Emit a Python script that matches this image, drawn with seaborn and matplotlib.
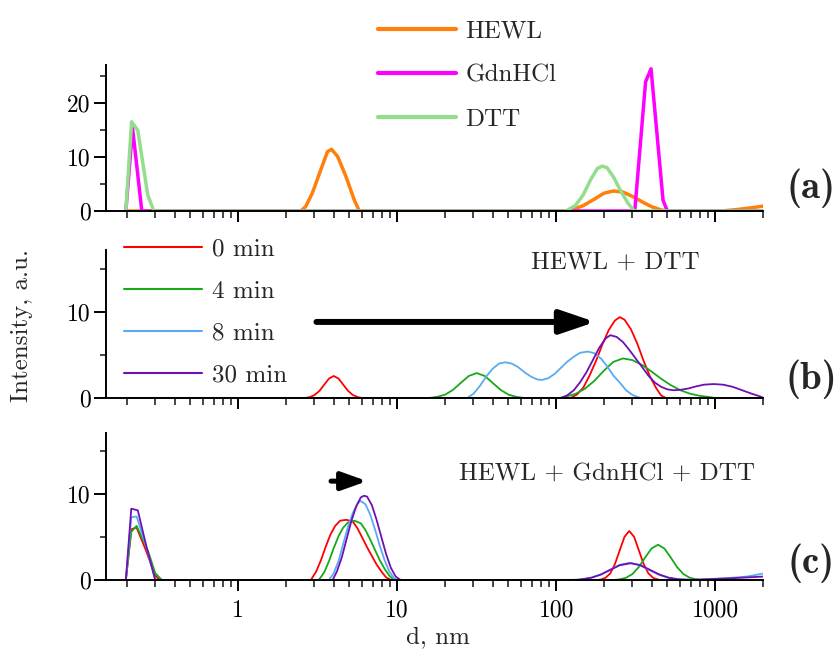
import numpy as np
import pandas as pd
import matplotlib
matplotlib.use("Agg")
import matplotlib.pyplot as plt
import seaborn as sns
from matplotlib.lines import Line2D
from matplotlib.ticker import FixedLocator, NullFormatter, LogLocator, FixedFormatter

# ---------------- data ----------------
# Panel (a): pure components
hewl_d = [0.196, 2.47, 2.65, 2.92, 3.30, 3.64, 3.86, 4.21, 4.75, 5.37, 5.77,
          120, 148, 174, 200, 229, 263, 302, 347, 398, 457, 501, 1100, 1400, 1700, 2000]
hewl_i = [0, 0, 0.8, 3.3, 7.6, 11.0, 11.4, 10.1, 6.4, 2.0, 0,
          0, 1.0, 2.2, 3.3, 3.7, 3.5, 2.7, 1.7, 0.8, 0.2, 0, 0, 0.3, 0.6, 0.9]
gdn_d = [0.196, 0.216, 0.247, 312, 365, 395, 470, 500, 2000]
gdn_i = [0, 15.3, 0, 0, 23.9, 26.3, 2.0, 0, 0]
dtt_d = [0.196, 0.213, 0.233, 0.269, 0.294, 115, 132, 148, 166, 182, 195, 209, 229, 257, 282, 309, 2000]
dtt_i = [0, 16.5, 14.9, 3.0, 0, 0, 1.0, 3.0, 6.0, 7.9, 8.3, 8.0, 6.3, 3.5, 1.5, 0, 0]

# Panel (b): HEWL + DTT
b0_d = [0.196, 2.63, 2.82, 3.02, 3.24, 3.47, 3.72, 3.98, 4.27, 4.57, 4.90, 5.25, 5.62, 6.03,
        123, 135, 148, 162, 178, 195, 214, 234, 251, 269, 295, 324, 355, 389, 427, 457, 490, 2000]
b0_i = [0, 0, 0.11, 0.35, 0.83, 1.55, 2.26, 2.56, 2.26, 1.55, 0.83, 0.35, 0.11, 0,
        0, 0.4, 1.2, 2.6, 4.3, 6.2, 7.9, 9.0, 9.4, 9.1, 8.0, 6.3, 4.3, 2.5, 1.1, 0.3, 0, 0]
b4_d = [0.196, 15.8, 17.8, 20.0, 22.4, 25.1, 28.2, 31.6, 35.5, 39.8, 44.7, 50.1, 56.2, 63.1,
        105, 115, 132, 151, 174, 200, 229, 263, 302, 347, 398, 457, 525, 603, 692, 794, 912, 1000, 2000]
b4_i = [0, 0, 0.13, 0.39, 0.94, 1.76, 2.56, 2.9, 2.56, 1.76, 0.94, 0.39, 0.13, 0,
        0, 0.17, 0.47, 1.06, 2.0, 3.2, 4.2, 4.6, 4.4, 3.84, 3.07, 2.24, 1.5, 0.91, 0.51, 0.26, 0.12, 0, 0]
b8_d = [0.196, 27.5, 30.2, 33.1, 36.3, 39.8, 43.7, 47.9, 52.5, 57.5, 63.1, 69.2, 75.9, 81.3, 89.1,
        97.7, 107, 117, 129, 141, 158, 174, 191, 209, 229, 251, 275, 302, 339, 2000]
b8_i = [0, 0, 0.5, 1.4, 2.5, 3.4, 4.0, 4.15, 4.0, 3.6, 3.0, 2.5, 2.15, 2.1, 2.3,
        2.8, 3.5, 4.2, 4.8, 5.25, 5.4, 5.2, 4.6, 3.7, 2.6, 1.8, 0.9, 0.35, 0, 0]
b30_d = [0.196, 107, 117, 129, 141, 155, 170, 186, 204, 219, 240, 263, 288, 316, 347, 380, 417,
         457, 501, 550, 603, 676, 759, 851, 977, 1122, 1288, 1479, 1698, 1905, 2000]
b30_i = [0, 0, 0.3, 0.9, 1.8, 3.0, 4.4, 5.8, 6.9, 7.3, 7.1, 6.5, 5.6, 4.6, 3.6, 2.6, 1.8,
         1.3, 1.0, 0.9, 0.95, 1.1, 1.35, 1.55, 1.62, 1.55, 1.3, 0.9, 0.5, 0.2, 0.05]

# Panel (c): HEWL + GdnHCl + DTT
c0_d = [0.196, 0.212, 0.229, 0.264, 0.30, 0.32,
        2.86, 3.09, 3.31, 3.55, 3.80, 4.07, 4.37, 4.79, 5.25, 5.62, 6.03, 6.46, 6.92, 7.41, 7.94, 8.51, 9.12,
        180, 191, 204, 219, 234, 251, 269, 288, 309, 331, 355, 380, 407, 437, 460, 2000]
c0_i = [0, 5.9, 6.1, 3.3, 0.5, 0,
        0, 1.0, 2.3, 3.9, 5.3, 6.3, 6.9, 7.0, 6.8, 6.0, 4.9, 3.8, 2.8, 1.8, 1.0, 0.3, 0,
        0, 0.05, 0.25, 0.77, 1.85, 3.46, 5.03, 5.7, 5.03, 3.46, 1.85, 0.77, 0.25, 0.05, 0, 0]
c4_d = [0.196, 0.212, 0.229, 0.270, 0.30, 0.33,
        3.21, 3.47, 3.72, 3.98, 4.27, 4.57, 4.90, 5.37, 5.89, 6.31, 6.76, 7.24, 7.76, 8.32, 8.91, 9.55,
        230, 251, 275, 302, 331, 363, 398, 437, 479, 525, 575, 631, 692, 759, 800, 2000]
c4_i = [0, 5.6, 6.3, 3.4, 0.8, 0,
        0, 0.9, 2.2, 3.7, 5.1, 6.1, 6.7, 6.9, 6.6, 5.8, 4.7, 3.5, 2.3, 1.3, 0.5, 0,
        0, 0.08, 0.26, 0.70, 1.51, 2.63, 3.67, 4.1, 3.67, 2.63, 1.51, 0.70, 0.26, 0.08, 0, 0]
c8_d = [0.196, 0.212, 0.229, 0.264, 0.30,
        3.72, 3.98, 4.27, 4.57, 4.90, 5.25, 5.62, 5.89, 6.31, 6.76, 7.24, 7.76, 8.32, 8.91, 9.55, 10.0,
        126, 145, 166, 191, 219, 251, 288, 331, 380, 437, 501, 575, 661, 794, 1000, 1259, 1585, 2000]
c8_i = [0, 7.3, 7.4, 3.8, 0,
        0, 0.8, 2.2, 4.2, 6.2, 7.8, 8.9, 9.2, 8.8, 7.6, 5.9, 4.0, 2.3, 1.0, 0.2, 0,
        0.02, 0.09, 0.27, 0.65, 1.21, 1.76, 2.0, 1.76, 1.21, 0.65, 0.27, 0.09, 0.04, 0.05, 0.15, 0.25, 0.4, 0.75]
c30_d = [0.196, 0.212, 0.233, 0.264, 0.30,
         3.92, 4.17, 4.47, 4.79, 5.13, 5.50, 5.89, 6.17, 6.46, 6.92, 7.41, 7.94, 8.51, 9.12, 9.77, 10.5,
         135, 145, 166, 191, 219, 251, 295, 339, 389, 447, 513, 589, 676, 794, 1000, 1259, 1585, 2000]
c30_i = [0, 8.3, 8.1, 3.9, 0,
         0, 1.0, 2.6, 4.7, 6.8, 8.5, 9.6, 9.8, 9.7, 8.7, 7.0, 5.0, 3.0, 1.4, 0.4, 0,
         0, 0.08, 0.26, 0.63, 1.18, 1.72, 1.95, 1.72, 1.18, 0.63, 0.26, 0.08, 0.03, 0.05, 0.12, 0.2, 0.3, 0.4]

comp_labels = ["HEWL", "GdnHCl", "DTT"]
time_labels = ["0 min", "4 min", "8 min", "30 min"]
x_tick_vals = [1, 10, 100, 1000]
x_tick_labels = ["1", "10", "100", "1000"]

comp_colors = {"HEWL": "#FF7F0A", "GdnHCl": "#FF00FF", "DTT": "#93DE8C"}
time_colors = {"0 min": "#FF0000", "4 min": "#18A818", "8 min": "#5AAAF2", "30 min": "#6E10B4"}


def long_df(pairs, labels):
    frames = []
    for (d, i), lab in zip(pairs, labels):
        frames.append(pd.DataFrame({"d": d, "I": i, "s": lab}))
    return pd.concat(frames, ignore_index=True)


df_a = long_df([(hewl_d, hewl_i), (gdn_d, gdn_i), (dtt_d, dtt_i)], comp_labels)
df_b = long_df([(b0_d, b0_i), (b4_d, b4_i), (b8_d, b8_i), (b30_d, b30_i)], time_labels)
df_c = long_df([(c0_d, c0_i), (c4_d, c4_i), (c8_d, c8_i), (c30_d, c30_i)], time_labels)

# ---------------- style ----------------
sns.set_style("ticks")
plt.rcParams["font.family"] = ["cmr10", "DejaVu Serif"]
plt.rcParams["axes.unicode_minus"] = False
plt.rcParams["axes.formatter.use_mathtext"] = True
plt.rcParams["mathtext.fontset"] = "cm"

W, H = 838, 651
fig = plt.figure(figsize=(W / 100, H / 100), dpi=100)


def add_ax(top, bottom):
    return fig.add_axes([106 / W, 1 - bottom / H, (763 - 106) / W, (bottom - top) / H])


ax_a = add_ax(65, 211)
ax_b = add_ax(250, 398)
ax_c = add_ax(433, 580)

sns.lineplot(data=df_a, x="d", y="I", hue="s", palette=comp_colors, hue_order=comp_labels,
             estimator=None, sort=False, legend=False, lw=2.5, ax=ax_a)
sns.lineplot(data=df_b, x="d", y="I", hue="s", palette=time_colors, hue_order=time_labels,
             estimator=None, sort=False, legend=False, lw=1.3, ax=ax_b)
sns.lineplot(data=df_c, x="d", y="I", hue="s", palette=time_colors, hue_order=time_labels,
             estimator=None, sort=False, legend=False, lw=1.3, ax=ax_c)

FS = 17
for ax, ymax, ymaj, ymin in [(ax_a, 27, [0, 10, 20], [5, 15, 25]),
                             (ax_b, 17.2, [0, 10], [5, 15]),
                             (ax_c, 17.1, [0, 10], [5, 15])]:
    ax.set_xscale("log")
    ax.set_xlim(0.147, 2000)
    ax.set_ylim(0, ymax)
    for s in ["top", "right"]:
        ax.spines[s].set_visible(False)
    for s in ["left", "bottom"]:
        ax.spines[s].set_linewidth(1.4)
        ax.spines[s].set_color("black")
    ax.xaxis.set_major_locator(FixedLocator(x_tick_vals))
    ax.xaxis.set_minor_locator(LogLocator(base=10, subs=[2, 3, 4, 5, 6, 7, 8, 9], numticks=20))
    ax.xaxis.set_minor_formatter(NullFormatter())
    ax.yaxis.set_major_locator(FixedLocator(ymaj))
    ax.yaxis.set_minor_locator(FixedLocator(ymin))
    ax.yaxis.set_major_formatter(FixedFormatter([str(v) for v in ymaj]))
    ax.tick_params(axis="both", which="major", direction="out", width=1.4, labelsize=FS, colors="black")
    ax.tick_params(axis="x", which="major", length=8, pad=6)
    ax.tick_params(axis="x", which="minor", length=5, width=1.2, direction="out")
    ax.tick_params(axis="y", which="major", length=9, pad=2)
    ax.tick_params(axis="y", which="minor", length=4.5, width=1.2, direction="out")
    ax.set_xlabel("")
    ax.set_ylabel("")
    ax.set_facecolor("none")

ax_a.xaxis.set_major_formatter(NullFormatter())
ax_b.xaxis.set_major_formatter(NullFormatter())
ax_c.xaxis.set_major_formatter(FixedFormatter(x_tick_labels))

# legends
LFS = 18
h_a = [Line2D([], [], color=comp_colors[k], lw=3) for k in comp_labels]
leg_a = ax_a.legend(h_a, comp_labels, loc="upper left", bbox_to_anchor=(378 / W, 1 - 20 / H),
                    bbox_transform=fig.transFigure, frameon=False, fontsize=LFS,
                    borderpad=0, borderaxespad=0, handlelength=3.1, handletextpad=0.4,
                    labelspacing=0.87)
h_b = [Line2D([], [], color=time_colors[k], lw=1.5) for k in time_labels]
leg_b = ax_b.legend(h_b, time_labels, loc="upper left", bbox_to_anchor=(124 / W, 1 - 238 / H),
                    bbox_transform=fig.transFigure, frameon=False, fontsize=LFS,
                    borderpad=0, borderaxespad=0, handlelength=3.1, handletextpad=0.4,
                    labelspacing=0.78)

# annotations
ax_b.text(237, 15.7, "HEWL + DTT", fontsize=LFS, ha="center", va="center")
ax_c.text(209, 12.4, "HEWL + GdnHCl + DTT", fontsize=LFS, ha="center", va="center")
ax_b.annotate("", xy=(176, 8.84), xytext=(3.1, 8.84),
              arrowprops=dict(arrowstyle="-|>,head_length=1.0,head_width=0.34", lw=4.3,
                              color="black", mutation_scale=21, shrinkA=0, shrinkB=0))
ax_c.annotate("", xy=(6.46, 11.5), xytext=(3.83, 11.5),
              arrowprops=dict(arrowstyle="-|>,head_length=0.95,head_width=0.34", lw=3.6,
                              color="black", mutation_scale=16, shrinkA=0, shrinkB=0))

# panel labels and axis titles
for lab, yc in [("(a)", 188), ("(b)", 379), ("(c)", 563)]:
    fig.text(811 / W, 1 - yc / H, lab, fontsize=28, fontfamily=["cmb10", "DejaVu Serif"],
             fontweight="bold", ha="center", va="center")
fig.text(22 / W, 1 - 325 / H, "Intensity, a.u.", rotation=90, fontsize=LFS, ha="center", va="center")
fig.text(438 / W, 1 - 637 / H, "d, nm", fontsize=LFS, ha="center", va="center")

fig.savefig("out.png", dpi=100)
